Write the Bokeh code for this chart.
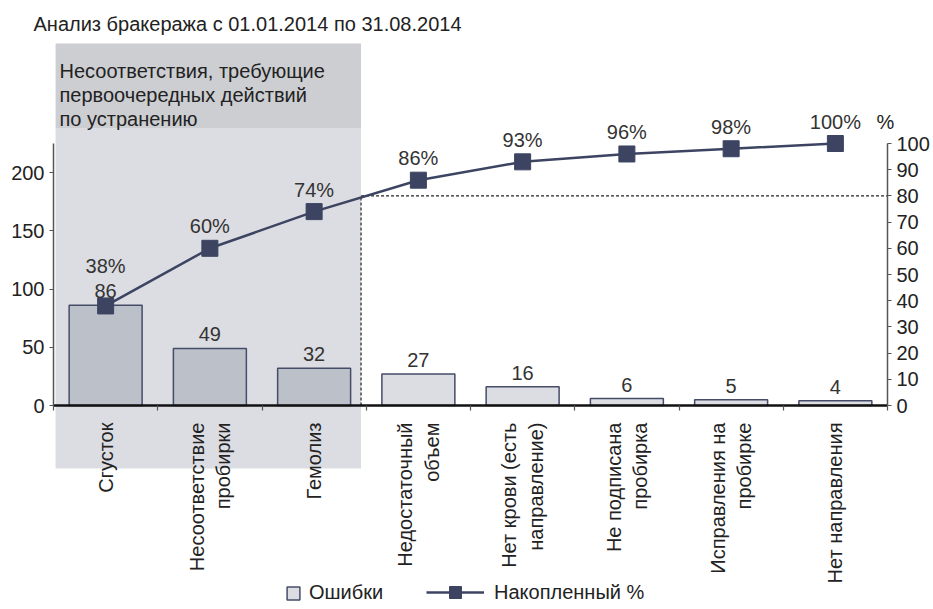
import math
from bokeh.plotting import figure
from bokeh.models import (Range1d, LinearAxis, FixedTicker,
                          BoxAnnotation, Label, LabelSet, Legend, LegendItem, ColumnDataSource)
from bokeh.core.properties import value
from bokeh.embed import file_html
from bokeh.resources import INLINE

# ---------------- data ----------------
title_text = "Анализ бракеража с 01.01.2014 по 31.08.2014"
box_lines = ["Несоответствия, требующие", "первоочередных действий", "по устранению"]
categories = ["Сгусток", "Несоответствие\nпробирки", "Гемолиз", "Недостаточный\nобъем",
              "Нет крови (есть\nнаправление)", "Не подписана\nпробирка",
              "Исправления на\nпробирке", "Нет направления"]
errors = [86, 49, 32, 27, 16, 6, 5, 4]
cum_pct = [38, 60, 74, 86, 93, 96, 98, 100]
left_ticks = [0, 50, 100, 150, 200]
right_ticks = [0, 10, 20, 30, 40, 50, 60, 70, 80, 90, 100]
threshold = 80
n_vital = 3
series_names = ["Ошибки", "Накопленный %"]
pct_unit = "%"

# ---------------- layout (canvas pixels, measured from the top-left) ----------------
W, H = 932, 607
AX_L, AX_R = 53, 887        # x of left / right value axes
BASE_Y, TOP_Y = 405, 143    # y of the zero line and of the axes' top (225 / 100 %)
LEGEND_Y = 592


def sy(y_from_top):
    """screen units (measured from the bottom) for a y measured from the top"""
    return H - y_from_top


# ---------------- style ----------------
FONT = "Liberation Sans"
FS = "20px"
TXT = "#222222"
DARK = "#3c4462"
BAR_DARK = "#bcc0c9"
BAR_LIGHT = "#dcdde2"
SHADE_LIGHT = "#dcdde2"
SHADE_DARK = "#cdced2"

total = sum(errors)
n = len(categories)
xpos = [i + 0.5 for i in range(n)]   # category slot centres

slot = (AX_R - AX_L) / n
ax_h = BASE_Y - TOP_Y
ax_b = H - BASE_Y
l_ppu = ax_h / total
r_ppu = ax_h / 100.0

p = figure(width=W, height=H,
           x_range=Range1d(-AX_L / slot, (W - AX_L) / slot),
           y_range=Range1d(-ax_b / l_ppu, (H - ax_b) / l_ppu),
           output_backend="svg", toolbar_location=None,
           x_axis_location=None, y_axis_location=None,
           min_border=0, min_border_left=0, min_border_right=0, min_border_top=0, min_border_bottom=0,
           outline_line_color=None, background_fill_color="white", border_fill_color="white")
p.grid.visible = False
p.extra_y_ranges = {"pct": Range1d(-ax_b / r_ppu, (H - ax_b) / r_ppu)}

# ---------------- axes (fixed inside the frame) ----------------
x_axis = LinearAxis(fixed_location=0, bounds=(0, n),
                    ticker=FixedTicker(ticks=xpos, minor_ticks=list(range(n + 1))),
                    major_label_overrides={x: c for x, c in zip(xpos, categories)},
                    axis_line_color="#111111", axis_line_width=2.5,
                    major_tick_line_color=None, major_tick_in=0, major_tick_out=0,
                    minor_tick_line_color="#555555", minor_tick_line_width=1.2,
                    minor_tick_in=0, minor_tick_out=5,
                    major_label_orientation=math.pi / 2, major_label_standoff=12,
                    major_label_text_font=FONT, major_label_text_font_size=FS,
                    major_label_text_color=TXT)
p.add_layout(x_axis, "below")

common = dict(major_tick_in=0, major_tick_out=4, minor_tick_line_color=None,
              axis_line_color="#555555", axis_line_width=1.5, major_tick_line_color="#555555",
              major_tick_line_width=1.2, major_label_text_font=FONT,
              major_label_text_font_size=FS, major_label_text_color=TXT)
left_axis = LinearAxis(fixed_location=0, ticker=FixedTicker(ticks=left_ticks), bounds=(0, total),
                       major_label_standoff=5, **common)
right_axis = LinearAxis(fixed_location=n, y_range_name="pct", ticker=FixedTicker(ticks=right_ticks),
                        bounds=(0, 100), major_label_standoff=5, **common)
p.add_layout(left_axis, "left")
p.add_layout(right_axis, "right")

# ---------------- shaded "vital few" area ----------------
vital_edge = n_vital - 0.05
p.add_layout(BoxAnnotation(left=0.02, right=vital_edge, bottom=sy(468), top=sy(128),
                           bottom_units="screen", top_units="screen",
                           fill_color=SHADE_LIGHT, fill_alpha=1, line_color=None, level="underlay"))
p.add_layout(BoxAnnotation(left=0.02, right=vital_edge, bottom=sy(128), top=sy(43),
                           bottom_units="screen", top_units="screen",
                           fill_color=SHADE_DARK, fill_alpha=1, line_color=None, level="underlay"))
for i, line in enumerate(box_lines):
    p.add_layout(Label(x=59, y=sy(70 + i * 24), x_units="screen", y_units="screen", text=line,
                       text_font=FONT, text_font_size=FS, text_color=TXT,
                       text_baseline="middle", text_align="left"))

# ---------------- title and % unit ----------------
p.add_layout(Label(x=33, y=sy(23), x_units="screen", y_units="screen", text=title_text,
                   text_font=FONT, text_font_size=FS, text_color=TXT,
                   text_baseline="middle", text_align="left"))
p.add_layout(Label(x=885, y=sy(121), x_units="screen", y_units="screen", text=pct_unit,
                   text_font=FONT, text_font_size=FS, text_color=TXT,
                   text_baseline="middle", text_align="center"))

# ---------------- data marks ----------------
fills = [BAR_DARK if i < n_vital else BAR_LIGHT for i in range(n)]
pct_off = [33 if i == 0 else 15 for i in range(n)]
src = ColumnDataSource(dict(x=xpos, cat=categories, err=errors, pct=cum_pct, fill=fills,
                            err_lbl=[str(e) for e in errors],
                            pct_lbl=[f"{v}%" for v in cum_pct], pct_off=pct_off))

bars = p.vbar(x="x", top="err", width=0.7, source=src, fill_color="fill",
              line_color="#454c68", line_width=1.5)

p.segment(x0=[vital_edge, vital_edge], y0=[0, threshold], x1=[vital_edge, n], y1=[threshold, threshold],
          y_range_name="pct", line_color="#222222", line_width=1.2, line_dash="3 2")

line_r = p.line(x="x", y="pct", y_range_name="pct", source=src, line_color=DARK, line_width=2.5)
mark_r = p.scatter(x="x", y="pct", y_range_name="pct", source=src, marker="square", size=16,
                   fill_color=DARK, line_color=DARK)

p.add_layout(LabelSet(x="x", y="err", text="err_lbl", source=src, y_offset=7,
                      text_align="center", text_baseline="alphabetic", text_font=value(FONT),
                      text_font_size=value(FS), text_color="#333333"))
p.add_layout(LabelSet(x="x", y="pct", y_range_name="pct", text="pct_lbl", source=src,
                      y_offset="pct_off", text_align="center", text_baseline="alphabetic",
                      text_font=value(FONT), text_font_size=value(FS), text_color="#333333"))

# ---------------- legends ----------------
leg_common = dict(orientation="horizontal", padding=0, margin=0, spacing=0,
                  border_line_color=None, background_fill_alpha=0,
                  label_text_font=FONT, label_text_font_size=FS, label_text_color=TXT)
leg1 = Legend(items=[LegendItem(label=series_names[0], renderers=[bars], index=3)],
              location=(285, sy(LEGEND_Y) - 12), glyph_width=16, glyph_height=16, label_standoff=8,
              **leg_common)
leg2 = Legend(items=[LegendItem(label=series_names[1], renderers=[line_r, mark_r])],
              location=(426, sy(LEGEND_Y) - 15), glyph_width=58, glyph_height=30, label_standoff=10,
              **leg_common)
p.add_layout(leg1)
p.add_layout(leg2)

open("out.html", "w").write(file_html(p, INLINE))
